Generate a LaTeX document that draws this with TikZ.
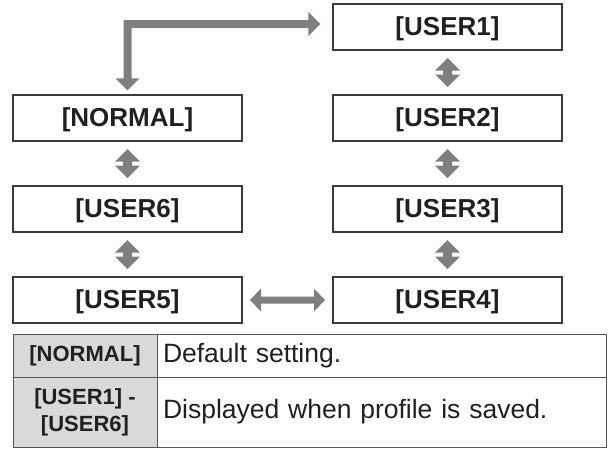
\documentclass[tikz,border=0pt]{standalone}
\usepackage{fontspec}
\setmainfont{Liberation Sans}
\usetikzlibrary{calc}
\definecolor{arrgray}{HTML}{7F7F7F}
\definecolor{txt}{HTML}{231F20}
\definecolor{boxline}{HTML}{3A3A3A}
\definecolor{tabline}{HTML}{555555}
\definecolor{cellgray}{HTML}{D9D9D9}
\newcommand\vdarrow[2]{\fill[arr] ($(#1.south)!0.5!(#2.north)$) ++(0,-14.5) -- ++(12.5,12.5) -- ++(-8,0) -- ++(0,4) -- ++(8,0) -- ++(-12.5,12.5) -- ++(-12.5,-12.5) -- ++(8,0) -- ++(0,-4) -- ++(-8,0) -- cycle;}
\begin{document}
\begin{tikzpicture}[x=1pt,y=-1pt,
  box/.style={draw=boxline, line width=1.2pt, minimum width=229pt, minimum height=46pt, inner sep=0pt, text height=21pt, text depth=4.5pt, text=txt, font=\fontsize{26}{30}\selectfont\bfseries},
  arr/.style={fill=arrgray},
  hcell/.style={draw=tabline, line width=1pt, fill=cellgray, minimum width=144pt, inner sep=0pt, align=center, text=txt, font=\fontsize{22}{27}\selectfont\bfseries},
  dcell/.style={draw=tabline, line width=1pt, fill=white, text width=437pt, inner xsep=6pt, inner ysep=0pt, align=left, text=txt, font=\fontsize{26.5}{30}\selectfont}]
\useasboundingbox (0,0) rectangle (613,448);
% flow boxes
\node[box] (u1)  at (447.5,27)  {[USER1]};
\node[box] (nor) at (127.5,118) {[NORMAL]};
\node[box] (u2)  at (447.5,118) {[USER2]};
\node[box] (u6)  at (127.5,209) {[USER6]};
\node[box] (u3)  at (447.5,209) {[USER3]};
\node[box] (u5)  at (127.5,300) {[USER5]};
\node[box] (u4)  at (447.5,300) {[USER4]};
% vertical double arrows
\vdarrow{u1}{u2}
\vdarrow{u2}{u3}
\vdarrow{u3}{u4}
\vdarrow{nor}{u6}
\vdarrow{u6}{u5}
% horizontal double arrow
\fill[arr] ($(u5.east)!0.5!(u4.west)$) ++(-37.5,0) -- ++(11,-11.5) -- ++(0,8) -- ++(53,0) -- ++(0,-8) -- ++(11,11.5) -- ++(-11,11.5) -- ++(0,-8) -- ++(-53,0) -- ++(0,8) -- cycle;
% L-shaped arrow NORMAL -> USER1
\coordinate (dt) at ([yshift=4pt]nor.north);
\coordinate (rt) at ([xshift=-12pt,yshift=3pt]u1.west);
\fill[arr] (dt) -- ++(12,-12) -- ++(-8,0) |- ([xshift=-12pt,yshift=-4pt]rt) -- ++(0,8) -- (rt) -- ++(-12,-12) -- ++(0,8) -| ([xshift=-4pt,yshift=12pt]dt) -- ++(-8,0) -- cycle;
% table
\node[hcell, minimum height=43pt] (h1) at (85,355.5) {[NORMAL]};
\node[dcell, minimum height=43pt] (d1) at (381.5,355.5) {Default setting.};
\node[hcell, minimum height=70pt] (h2) at (85,412) {[USER1] -\\{}[USER6]};
\node[dcell, minimum height=70pt] (d2) at (381.5,412) {Displayed when profile is saved.};
\end{tikzpicture}
\end{document}
